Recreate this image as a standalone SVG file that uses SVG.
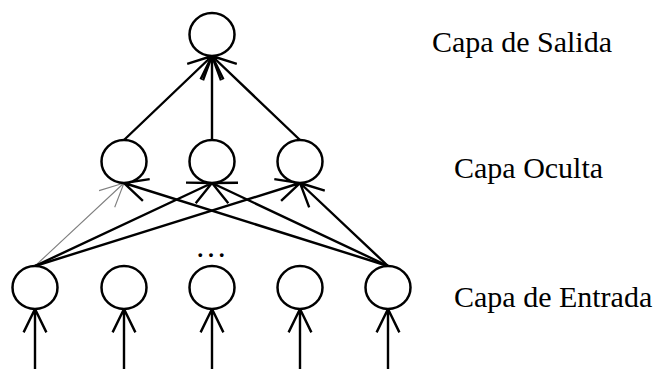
<svg xmlns="http://www.w3.org/2000/svg" width="659" height="369" viewBox="0 0 659 369">
  <style>
    .node { fill: #fff; stroke: #000; stroke-width: 2.5; }
    .edge { fill: none; stroke: #000; stroke-width: 2.4; stroke-linecap: butt; stroke-linejoin: miter; }
    .edge.thin { stroke: #808080; stroke-width: 1.1; }
    .label { font-family: "Liberation Serif", "Times New Roman", serif; font-size: 30px; fill: #000; }
  </style>
  <rect width="659" height="369" fill="#fff"/>

  <!-- connectors: line plus open V arrowhead at the target -->
  <g id="connectors">
    <!-- external inputs -->
    <path class="edge" d="M35,369 V309 M23.6,332.4 L35,309 L46.4,332.4"/>
    <path class="edge" d="M124,369 V309 M112.6,332.4 L124,309 L135.4,332.4"/>
    <path class="edge" d="M212,369 V309 M200.6,332.4 L212,309 L223.4,332.4"/>
    <path class="edge" d="M300,369 V309 M288.6,332.4 L300,309 L311.4,332.4"/>
    <path class="edge" d="M388,369 V309 M376.6,332.4 L388,309 L399.4,332.4"/>

    <!-- input layer to hidden layer -->
    <path class="edge thin" d="M35,266 L124,183 M99.1,190.6 L124,183 L114.7,207.3"/>
    <path class="edge" d="M35,266 L212,183 M186,182.6 L212,183 L195.7,203.2"/>
    <path class="edge" d="M35,266 L300,183 M274.3,179.1 L300,183 L281.1,200.9"/>
    <path class="edge" d="M388,266 L124,183 M142.9,200.9 L124,183 L149.7,179.1"/>
    <path class="edge" d="M388,266 L212,183 M228.3,203.3 L212,183 L238,182.7"/>
    <path class="edge" d="M388,266 L300,183 M309.2,207.3 L300,183 L324.8,190.7"/>

    <!-- hidden layer to output -->
    <path class="edge" d="M124,140 L212,56 M187.2,63.9 L212,56 L203,80.4"/>
    <path class="edge" d="M212,140 L212,56 M200.6,79.4 L212,56 L223.4,79.4"/>
    <path class="edge" d="M300,140 L212,56 M236.8,63.9 L212,56 L221,80.4"/>
  </g>

  <!-- output layer -->
  <g id="out1"><ellipse class="node" cx="212" cy="34.5" rx="22.5" ry="21.5"/></g>

  <!-- hidden layer -->
  <g id="hid1"><ellipse class="node" cx="124" cy="161.5" rx="22.5" ry="21.5"/></g>
  <g id="hid2"><ellipse class="node" cx="212" cy="161.5" rx="22.5" ry="21.5"/></g>
  <g id="hid3"><ellipse class="node" cx="300" cy="161.5" rx="22.5" ry="21.5"/></g>

  <!-- input layer -->
  <g id="in1"><ellipse class="node" cx="35" cy="287.5" rx="22.5" ry="21.5"/></g>
  <g id="in2"><ellipse class="node" cx="124" cy="287.5" rx="22.5" ry="21.5"/></g>
  <g id="in3"><ellipse class="node" cx="212" cy="287.5" rx="22.5" ry="21.5"/></g>
  <g id="in4"><ellipse class="node" cx="300" cy="287.5" rx="22.5" ry="21.5"/></g>
  <g id="in5"><ellipse class="node" cx="388" cy="287.5" rx="22.5" ry="21.5"/></g>

  <text class="label" x="211" y="257" text-anchor="middle" style="font-size:32px">…</text>

  <!-- layer names -->
  <text class="label" x="432" y="52">Capa de Salida</text>
  <text class="label" x="454" y="178">Capa Oculta</text>
  <text class="label" x="454" y="307">Capa de Entrada</text>
</svg>
